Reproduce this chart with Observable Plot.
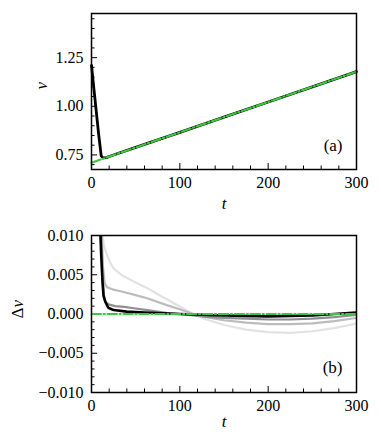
<!DOCTYPE html>
<html><head><meta charset="utf-8">
<script src="https://cdn.jsdelivr.net/npm/d3@7"></script>
<script src="https://cdn.jsdelivr.net/npm/@observablehq/plot@0.6"></script>
<style>
body{margin:0;background:#fff;font-family:'Times New Roman',serif;}
#chart svg{display:block;}
#chart svg text{font-family:'Times New Roman','Liberation Serif',serif !important;}
</style>
</head><body>
<div id="chart"></div>
<script>
// ---------- tick values ----------
const tMajor = [0, 100, 200, 300];
const tMinor = [20, 40, 60, 80, 120, 140, 160, 180, 220, 240, 260, 280];
const vMajor = [0.75, 1.00, 1.25];
const vMinor = [0.70, 0.80, 0.85, 0.90, 0.95, 1.05, 1.10, 1.15, 1.20, 1.30, 1.35, 1.40, 1.45];
const dvMajor = [-0.010, -0.005, 0.000, 0.005, 0.010];
const dvMinor = [-0.009, -0.008, -0.007, -0.006, -0.004, -0.003, -0.002, -0.001,
                 0.001, 0.002, 0.003, 0.004, 0.006, 0.007, 0.008, 0.009];

// ---------- panel (a) data ----------
const tBlackA = [0, 2.5, 5, 8, 11, 13, 17, 20, 50, 100, 150, 200, 250, 300];
const vBlackA = [1.21, 1.10, 0.99, 0.86, 0.745, 0.735, 0.736, 0.742, 0.789, 0.866, 0.944, 1.022, 1.100, 1.178];
const tGreenA = [0, 300];
const vGreenA = [0.71, 1.178];

// ---------- panel (b) data ----------
const tLight = [12, 14, 17, 21, 25, 35, 50, 63, 80, 101, 115, 130, 150, 175, 200, 225, 250, 275, 300];
const dvLight = [0.0105, 0.0088, 0.0077, 0.0066, 0.0058, 0.0049, 0.0040, 0.0033, 0.0022, 0.0009, 0.0, -0.0007, -0.0014, -0.0020, -0.0023, -0.0024, -0.0022, -0.0018, -0.0012];
const tMid = [11.5, 13, 15, 17.7, 25, 33, 50, 63, 86, 100, 115, 130, 150, 175, 200, 225, 250, 275, 300];
const dvMid = [0.0105, 0.0060, 0.0039, 0.0034, 0.0031, 0.0029, 0.0024, 0.0020, 0.0011, 0.0006, 0.0, -0.0004, -0.0008, -0.0011, -0.0013, -0.0013, -0.0012, -0.0009, -0.0005];
const tDark = [11, 12.5, 14, 15.8, 20, 27, 37, 50, 63, 86, 100, 125, 150, 175, 200, 225, 250, 275, 300];
const dvDark = [0.0105, 0.0050, 0.0025, 0.0015, 0.0012, 0.0010, 0.0009, 0.0007, 0.0005, 0.00013, 0.0, -0.0003, -0.0005, -0.0006, -0.0007, -0.0007, -0.0006, -0.0004, -0.0001];
const tBlackB = [9.5, 11, 12.5, 13.6, 15.5, 19, 25, 40, 60, 100, 150, 200, 250, 300];
const dvBlackB = [0.012, 0.0075, 0.004, 0.0023, 0.0016, 0.0008, 0.0005, 0.0003, 0.0002, 0.0, -0.0002, -0.0003, -0.0002, 0.0002];
const tGreenB = [0, 300];
const dvGreenB = [0, 0];

const zip = (ts, vs) => ts.map((t, i) => ({t, v: vs[i]}));

const GREEN = "#3ec63e";
const DASHDOT = "9.6,2.4,1.5,2.4";
const FONT = "'Times New Roman', 'Liberation Serif', serif";
const style = {fontFamily: FONT, fontSize: "16px"};
const W = 381;

function ticks(frameW, frameH, yMajor, yMinor) {
  return [
    Plot.tickX(tMinor, {x: d => d, insetTop: frameH - 3.5, stroke: "black", strokeWidth: 1}),
    Plot.tickX(tMajor, {x: d => d, insetTop: frameH - 6, stroke: "black", strokeWidth: 1}),
    Plot.tickY(yMinor, {y: d => d, insetRight: frameW - 3.5, stroke: "black", strokeWidth: 1}),
    Plot.tickY(yMajor, {y: d => d, insetRight: frameW - 6, stroke: "black", strokeWidth: 1})
  ];
}

const pa = Plot.plot({
  width: W, height: 220,
  marginLeft: 91, marginRight: 25, marginTop: 13, marginBottom: 51,
  x: {domain: [0, 300], ticks: tMajor, tickSize: 0, tickPadding: 7, tickFormat: d => String(d), label: null},
  y: {domain: [0.675, 1.477], ticks: vMajor, tickSize: 0, tickPadding: 8, tickFormat: d3.format(".2f"), label: null},
  style,
  marks: [
    ...ticks(265, 156, vMajor, vMinor),
    Plot.line(zip(tBlackA, vBlackA), {x: "t", y: "v", stroke: "black", strokeWidth: 2.8}),
    Plot.line(zip(tGreenA, vGreenA), {x: "t", y: "v", stroke: GREEN, strokeWidth: 2.2, strokeDasharray: DASHDOT}),
    Plot.frame({stroke: "black", strokeWidth: 1.5}),
    Plot.text(["t"], {text: d => d, frameAnchor: "bottom", dy: 34, fontStyle: "italic", fontSize: 17, lineAnchor: "middle", fontFamily: FONT}),
    Plot.text(["v"], {text: d => d, frameAnchor: "left", dx: -49.5, dy: -2, rotate: -90, fontStyle: "italic", fontSize: 17, fontFamily: FONT}),
    Plot.text(["(a)"], {text: d => d, frameAnchor: "bottom-right", dx: -14, dy: -23.5, textAnchor: "end", lineAnchor: "middle", fontSize: 17, fontFamily: FONT})
  ]
});

const pb = Plot.plot({
  width: W, height: 226,
  marginLeft: 91, marginRight: 25, marginTop: 15, marginBottom: 54,
  x: {domain: [0, 300], ticks: tMajor, tickSize: 0, tickPadding: 7, tickFormat: d => String(d), label: null},
  y: {domain: [-0.010, 0.010], ticks: dvMajor, tickSize: 0, tickPadding: 8, tickFormat: d3.format(".3f"), label: null},
  style,
  marks: [
    ...ticks(265, 157, dvMajor, dvMinor),
    Plot.line(zip(tLight, dvLight), {x: "t", y: "v", stroke: "#e2e2e2", strokeWidth: 2.2, clip: true}),
    Plot.line(zip(tMid, dvMid), {x: "t", y: "v", stroke: "#bcbcbc", strokeWidth: 2.2, clip: true}),
    Plot.line(zip(tDark, dvDark), {x: "t", y: "v", stroke: "#8e8e8e", strokeWidth: 2.2, clip: true}),
    Plot.line(zip(tBlackB, dvBlackB), {x: "t", y: "v", stroke: "black", strokeWidth: 2.6, clip: true}),
    Plot.line(zip(tGreenB, dvGreenB), {x: "t", y: "v", stroke: GREEN, strokeWidth: 1.8, strokeDasharray: DASHDOT}),
    Plot.frame({stroke: "black", strokeWidth: 1.5}),
    Plot.text(["t"], {text: d => d, frameAnchor: "bottom", dy: 29, fontStyle: "italic", fontSize: 17, lineAnchor: "middle", fontFamily: FONT}),
    Plot.text(["Δ"], {text: d => d, frameAnchor: "left", dx: -74, dy: 4.5, rotate: -90, fontSize: 17, fontFamily: FONT}),
    Plot.text(["v"], {text: d => d, frameAnchor: "left", dx: -74, dy: -6.5, rotate: -90, fontStyle: "italic", fontSize: 17, fontFamily: FONT}),
    Plot.text(["(b)"], {text: d => d, frameAnchor: "bottom-right", dx: -14, dy: -25, textAnchor: "end", lineAnchor: "middle", fontSize: 17, fontFamily: FONT})
  ]
});

document.getElementById("chart").append(pa, pb);
</script></body></html>
